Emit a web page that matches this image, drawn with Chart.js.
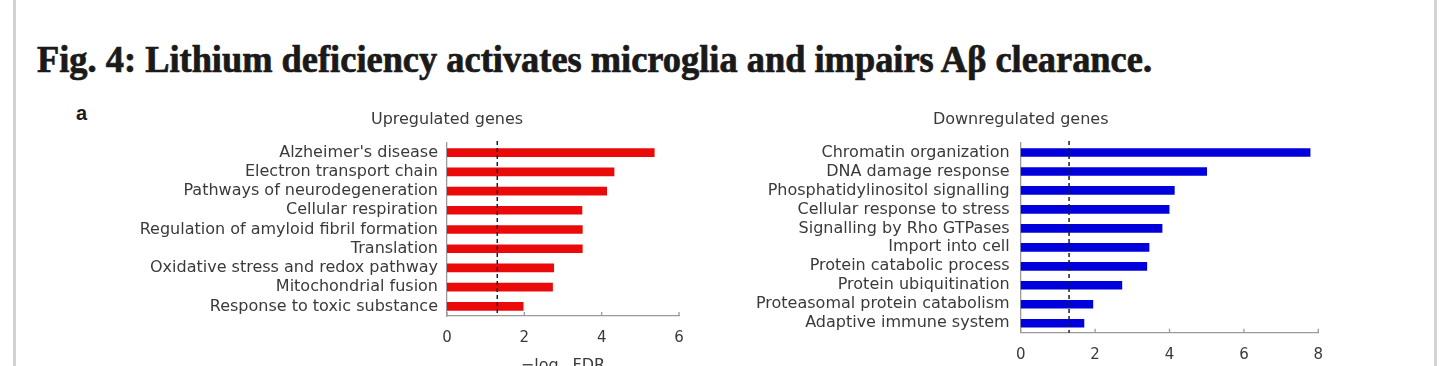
<!DOCTYPE html>
<html>
<head>
<meta charset="utf-8">
<script src="https://cdn.jsdelivr.net/npm/chart.js@4.4.0/dist/chart.umd.min.js"></script>
<style>
html, body { margin: 0; padding: 0; background: #fff; width: 1456px; height: 366px; overflow: hidden; position: relative; }
.edge { position: absolute; top: 0; width: 3px; height: 366px; background: #d3d3d3; }
#figTitle { position: absolute; left: 37px; top: 41px; font: bold 37px "Liberation Serif", serif; line-height: 1; color: #1a1a1a; -webkit-text-stroke: 0.7px #1a1a1a; white-space: nowrap; transform-origin: 0 0; }
#panelA { position: absolute; left: 76px; top: 103px; font: bold 20px "Liberation Sans", Arial, sans-serif; line-height: 1; color: #1c1c1c; }
.box { position: absolute; }
</style>
</head>
<body>
<div class="edge" style="left:13px"></div>
<div class="edge" style="left:1434px"></div>
<div id="figTitle">Fig. 4: Lithium deficiency activates microglia and impairs Aβ clearance.</div>
<div id="panelA">a</div>
<div class="box" style="left:100px;top:100px"><canvas id="upChart" width="620" height="290"></canvas></div>
<div class="box" style="left:720px;top:100px"><canvas id="downChart" width="640" height="290"></canvas></div>

<script>
// datos (-log10 FDR)
var upTerms = ["Alzheimer's disease", "Electron transport chain", "Pathways of neurodegeneration",
    "Cellular respiration", "Regulation of amyloid fibril formation", "Translation",
    "Oxidative stress and redox pathway", "Mitochondrial fusion", "Response to toxic substance"];
var upValues = [5.36, 4.32, 4.13, 3.49, 3.50, 3.50, 2.76, 2.73, 1.97];

var downTerms = ["Chromatin organization", "DNA damage response", "Phosphatidylinositol signalling",
    "Cellular response to stress", "Signalling by Rho GTPases", "Import into cell",
    "Protein catabolic process", "Protein ubiquitination", "Proteasomal protein catabolism",
    "Adaptive immune system"];
var downValues = [7.78, 5.00, 4.13, 3.99, 3.80, 3.45, 3.39, 2.72, 1.94, 1.70];

var upTicks = [0, 2, 4, 6];
var downTicks = [0, 2, 4, 6, 8];
var fdrCutoff = 1.3; // -log10(0.05)

var labelFont = '"DejaVu Sans", "Liberation Sans", sans-serif';
var textColor = '#3a3a3a';
var axisColor = '#9a9a9a';

// ajusta el titulo de la figura al ancho original
function fitTitle() {
    var t = document.getElementById('figTitle');
    var w = t.getBoundingClientRect().width;
    t.style.transform = 'scaleX(' + (1115 / w) + ')';
}

// titulo del panel, linea de corte, marcas del eje y titulo del eje x
var extrasPlugin = {
    id: 'extras',
    afterDatasetsDraw: function(chart, args, opts) {
        var ctx = chart.ctx, area = chart.chartArea, xs = chart.scales.x;
        ctx.save();
        // linea punteada FDR 0.05
        var cx = xs.getPixelForValue(fdrCutoff);
        ctx.strokeStyle = '#1e1e1e';
        ctx.lineWidth = 1.5;
        ctx.setLineDash([4, 3]);
        ctx.beginPath();
        ctx.moveTo(cx, area.top - 2);
        ctx.lineTo(cx, area.bottom);
        ctx.stroke();
        ctx.setLineDash([]);
        // marcas hacia arriba en el eje x
        ctx.strokeStyle = axisColor;
        ctx.lineWidth = 1.3;
        xs.ticks.forEach(function(tk) {
            var px = xs.getPixelForValue(tk.value);
            ctx.beginPath();
            ctx.moveTo(px, area.bottom);
            ctx.lineTo(px, area.bottom - 4);
            ctx.stroke();
        });
        // titulo del panel centrado en el cero
        ctx.fillStyle = textColor;
        ctx.font = '16px ' + labelFont;
        ctx.textAlign = 'center';
        ctx.textBaseline = 'middle';
        ctx.fillText(opts.title, xs.getPixelForValue(0), area.top - 23);
        // -log10 FDR
        var midX = (area.left + area.right) / 2;
        var y = area.bottom + 50;
        var p1 = '\u2212log', p2 = '10', p3 = 'FDR';
        ctx.font = '16px ' + labelFont;
        var w1 = ctx.measureText(p1).width, w3 = ctx.measureText(p3).width;
        ctx.font = '11px ' + labelFont;
        var w2 = ctx.measureText(p2).width;
        var x0 = midX - (w1 + w2 + w3) / 2;
        ctx.textAlign = 'left';
        ctx.font = '16px ' + labelFont;
        ctx.fillText(p1, x0, y);
        ctx.font = '11px ' + labelFont;
        ctx.fillText(p2, x0 + w1, y + 5);
        ctx.font = '16px ' + labelFont;
        ctx.fillText(p3, x0 + w1 + w2, y);
        ctx.restore();
    }
};

function barChart(canvasId, terms, values, color, ticks, yWidth, xHeight, padRight, labelPad, title) {
    return new Chart(document.getElementById(canvasId), {
        type: 'bar',
        data: {
            labels: terms,
            datasets: [{ data: values, backgroundColor: color, borderWidth: 0, barThickness: 8 }]
        },
        options: {
            indexAxis: 'y',
            responsive: false,
            animation: false,
            layout: { padding: { top: 43, right: padRight, left: 0, bottom: 0 } },
            plugins: { legend: { display: false }, tooltip: { enabled: false }, extras: { title: title } },
            scales: {
                x: {
                    min: ticks[0],
                    max: ticks[ticks.length - 1],
                    afterBuildTicks: function(s) { s.ticks = ticks.map(function(v) { return { value: v }; }); },
                    afterFit: function(s) { s.height = xHeight; },
                    grid: { display: false },
                    border: { display: true, color: axisColor, width: 1.3 },
                    ticks: { color: textColor, font: { family: labelFont, size: 15 }, padding: 5, maxRotation: 0 }
                },
                y: {
                    afterFit: function(s) { s.width = yWidth; },
                    grid: { display: false },
                    border: { display: true, color: axisColor, width: 1.3 },
                    ticks: { color: textColor, font: { family: labelFont, size: 16 }, padding: labelPad, autoSkip: false }
                }
            }
        },
        plugins: [extrasPlugin]
    });
}

fitTitle();
barChart('upChart', upTerms, upValues, '#eb0a0a', upTicks, 347, 74, 41, 1, 'Upregulated genes');
barChart('downChart', downTerms, downValues, '#0000dc', downTicks, 300.7, 57.3, 41.7, 3, 'Downregulated genes');
</script>
</body>
</html>
